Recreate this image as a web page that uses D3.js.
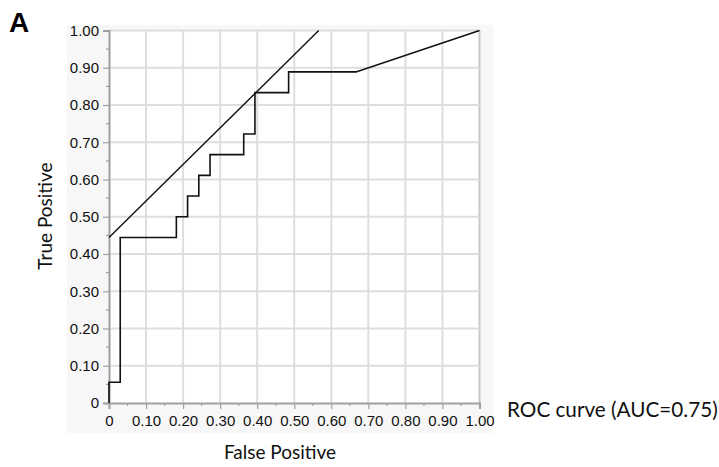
<!DOCTYPE html>
<html><head><meta charset="utf-8">
<script src="https://cdn.jsdelivr.net/npm/d3@7"></script>
<style>body{margin:0;background:#fff}</style>
</head><body>
<script>
const fpr = [0,0,0.0303,0.0303,0.1818,0.1818,0.2121,0.2121,0.2424,0.2424,0.2727,0.2727,0.3636,0.3636,0.3939,0.3939,0.4848,0.4848,0.6667,1];
const tpr = [0,0.0556,0.0556,0.4444,0.4444,0.5,0.5,0.5556,0.5556,0.6111,0.6111,0.6667,0.6667,0.7222,0.7222,0.8333,0.8333,0.8889,0.8889,1];
const tangentX = [0,0.566];
const tangentY = [0.444,1];
const tickValues = [0,0.1,0.2,0.3,0.4,0.5,0.6,0.7,0.8,0.9,1];
const tickLabels = ["0","0.10","0.20","0.30","0.40","0.50","0.60","0.70","0.80","0.90","1.00"];
const minorTicks = [0.05,0.15,0.25,0.35,0.45,0.55,0.65,0.75,0.85,0.95];

const W=719,H=467;
const svg=d3.select("body").append("svg").attr("width",W).attr("height",H);
const x=d3.scaleLinear().domain([0,1]).range([109,479.5]);
const y=d3.scaleLinear().domain([0,1]).range([403,30.5]);

svg.append("rect").attr("x",67).attr("y",25).attr("width",426).attr("height",408).attr("fill","#f7f7f7");
svg.append("rect").attr("x",x(0)).attr("y",y(1)).attr("width",x(1)-x(0)).attr("height",y(0)-y(1)).attr("fill","#fff");

// grid
const g=svg.append("g");
g.selectAll("line.vx").data(tickValues.slice(1)).join("line")
 .attr("x1",d=>x(d)).attr("x2",d=>x(d)).attr("y1",y(0)).attr("y2",y(1))
 .attr("stroke",d=>d===1?"#c8c8c8":"#dedede").attr("stroke-width",2);
g.selectAll("line.hy").data(tickValues.slice(1)).join("line")
 .attr("y1",d=>y(d)).attr("y2",d=>y(d)).attr("x1",x(0)).attr("x2",x(1))
 .attr("stroke","#dedede").attr("stroke-width",2);

const font="'Liberation Sans', Arial, sans-serif";
// x axis
const xa=svg.append("g").attr("transform",`translate(0,${y(0)})`)
 .call(d3.axisBottom(x).tickValues(tickValues).tickSize(6).tickPadding(6).tickFormat((d,i)=>tickLabels[i]));
const ya=svg.append("g").attr("transform",`translate(${x(0)},0)`)
 .call(d3.axisLeft(y).tickValues(tickValues).tickSize(6).tickPadding(4).tickFormat((d,i)=>tickLabels[i]));
[xa,ya].forEach(a=>{
  a.select(".domain").attr("stroke","#a0a0a0").attr("stroke-width",2);
  a.selectAll(".tick line").attr("stroke","#a0a0a0").attr("stroke-width",1.2);
  a.selectAll(".tick text").attr("font-family",font).attr("font-size",15).attr("fill","#111");
});
svg.append("g").selectAll("line").data(minorTicks).join("line")
 .attr("x1",d=>x(d)).attr("x2",d=>x(d)).attr("y1",y(0)).attr("y2",y(0)+3).attr("stroke","#a0a0a0").attr("stroke-width",1.2);
svg.append("g").selectAll("line").data(minorTicks).join("line")
 .attr("y1",d=>y(d)).attr("y2",d=>y(d)).attr("x1",x(0)).attr("x2",x(0)-3).attr("stroke","#a0a0a0").attr("stroke-width",1.2);

// curves
const line=d3.line().x(d=>x(d[0])).y(d=>y(d[1]));
svg.append("path").datum(fpr.map((v,i)=>[v,tpr[i]])).attr("d",line)
 .attr("fill","none").attr("stroke","#111").attr("stroke-width",1.6);
svg.append("path").datum(tangentX.map((v,i)=>[v,tangentY[i]])).attr("d",line)
 .attr("fill","none").attr("stroke","#111").attr("stroke-width",1.4);

// texts
const tfont="Lato, 'Open Sans', sans-serif";
svg.append("text").attr("x",280).attr("y",459).attr("text-anchor","middle")
 .attr("font-family",tfont).attr("font-size",19).attr("fill","#111").text("False Positive");
svg.append("text").attr("transform","translate(52,216) rotate(-90)").attr("text-anchor","middle")
 .attr("font-family",tfont).attr("font-size",19).attr("fill","#111").text("True Positive");
svg.append("text").attr("x",507).attr("y",417)
 .attr("font-family",tfont).attr("font-size",20.7).attr("fill","#111").text("ROC curve (AUC=0.75)");
svg.append("text").attr("x",9).attr("y",32)
 .attr("font-family","'Liberation Sans', Arial, sans-serif").attr("font-weight","bold").attr("font-size",28).attr("fill","#000").text("A");
</script>
</body></html>
